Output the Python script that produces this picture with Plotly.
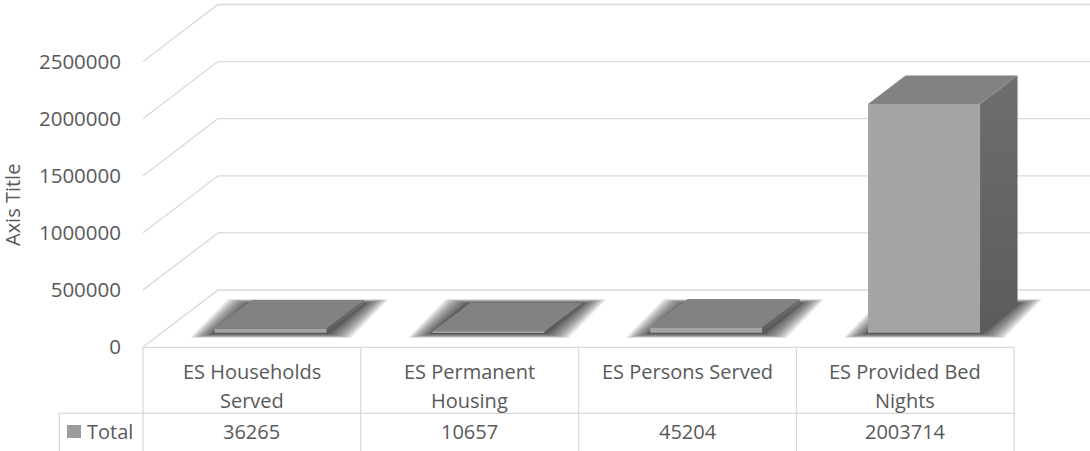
import plotly.graph_objects as go

# ---------------- data ----------------
categories = ["ES Households Served", "ES Permanent Housing", "ES Persons Served", "ES Provided Bed Nights"]
table_labels = [["ES Households", "Served"], ["ES Permanent", "Housing"], ["ES Persons Served"], ["ES Provided Bed", "Nights"]]
values = [36265, 10657, 45204, 2003714]
series_name = "Total"
tick_vals = [0, 500000, 1000000, 1500000, 2000000, 2500000]
tick_text = ["0", "500000", "1000000", "1500000", "2000000", "2500000"]
axis_title = "Axis Title"

# ---------------- geometry ----------------
W, H = 1090, 451
ML, MB = 143, 104
PW, PH = W - ML, H - MB
COL_PX = 217.8
UNITS_PER_PX = 500000 / 57.1

x0 = -0.5
x1 = x0 + PW / COL_PX
y1 = PH * UNITS_PER_PX


def ux(p):
    return p / COL_PX


def uy(p):
    return p * UNITS_PER_PX


DX, DY = ux(75), uy(57)          # depth of the floor
BAR_W = ux(112)
FDX, FDY = DX / 4, DY / 4        # bar front offset
BDX, BDY = DX / 2, DY / 2        # bar depth


def xp_cat(xc):
    return (xc - x0) / (x1 - x0)


def xp_px(px):
    return (px - ML) / PW


def yp_px(py):
    return (PH - py) / PH


GRID = "#d9d9d9"
TXT = "#595959"
FONT = "Open Sans"

shapes = []
# perspective gridlines (back wall + floor edge)
for v in tick_vals:
    shapes.append(dict(type="path", xref="x", yref="y", layer="below",
                       path=f"M {x0},{v} L {x0 + DX},{v + DY} L {x1},{v + DY}",
                       line=dict(color=GRID, width=1.3)))

# soft shadows under bars (stacked translucent layers to imitate a blur)
shadow_steps = [(24, 5), (21, 4.5), (18, 4), (15, 3.5), (12, 3), (9, 2.5), (6, 2), (4, 1.5), (2, 1)]
for i, v in enumerate(values):
    xl = i - BAR_W / 2 + FDX
    xr = xl + BAR_W
    for ex, ey in shadow_steps:
        exu, eyu = ux(ex), uy(ey)
        p = (f"M {xl - exu},{FDY - eyu} L {xr + exu},{FDY - eyu} "
             f"L {xr + BDX + exu},{FDY + BDY + eyu} L {xl + BDX - exu},{FDY + BDY + eyu} Z")
        shapes.append(dict(type="path", xref="x", yref="y", layer="below", path=p,
                           fillcolor="#1a1a1a", opacity=0.13, line=dict(width=0)))

fig = go.Figure()

# front faces (real bars)
fig.add_trace(go.Bar(x=list(range(len(values))), y=values, base=FDY, width=BAR_W,
                     offset=-BAR_W / 2 + FDX, name=series_name,
                     marker=dict(color="#a4a4a4", line=dict(width=0)),
                     hovertext=categories, showlegend=False))

# side and top faces
for i, v in enumerate(values):
    xl = i - BAR_W / 2 + FDX
    xr = xl + BAR_W
    fig.add_trace(go.Scatter(
        x=[xr, xr + BDX, xr + BDX, xr, xr],
        y=[FDY, FDY + BDY, FDY + BDY + v, FDY + v, FDY],
        mode="lines", fill="toself", line=dict(width=0),
        fillgradient=dict(type="vertical", colorscale=[[0, "#5c5c5c"], [1, "#6e6e6e"]]),
        hoverinfo="skip", showlegend=False))
    fig.add_trace(go.Scatter(
        x=[xl, xr, xr + BDX, xl + BDX, xl],
        y=[FDY + v, FDY + v, FDY + BDY + v, FDY + BDY + v, FDY + v],
        mode="lines", fill="toself", line=dict(width=0), fillcolor="#828282",
        hoverinfo="skip", showlegend=False))

# ---------------- data table ----------------
ytop, ymid, ybot = 347.3, 413.3, 452
n = len(values)
shapes.append(dict(type="line", xref="paper", yref="paper", x0=xp_cat(-0.5), x1=xp_cat(n - 0.5),
                   y0=yp_px(ytop), y1=yp_px(ytop), line=dict(color=GRID, width=1.3)))
shapes.append(dict(type="line", xref="paper", yref="paper", x0=xp_px(59.3), x1=xp_cat(n - 0.5),
                   y0=yp_px(ymid), y1=yp_px(ymid), line=dict(color=GRID, width=1.3)))
for i in range(n + 1):
    shapes.append(dict(type="line", xref="paper", yref="paper", x0=xp_cat(i - 0.5), x1=xp_cat(i - 0.5),
                       y0=yp_px(ytop), y1=yp_px(ybot), line=dict(color=GRID, width=1.3)))
shapes.append(dict(type="line", xref="paper", yref="paper", x0=xp_px(59.3), x1=xp_px(59.3),
                   y0=yp_px(ymid), y1=yp_px(ybot), line=dict(color=GRID, width=1.3)))
# legend key
shapes.append(dict(type="rect", xref="paper", yref="paper", x0=xp_px(67), x1=xp_px(81),
                   y0=yp_px(438), y1=yp_px(425), fillcolor="#9c9c9c", line=dict(width=0)))

annotations = []
for i, lines in enumerate(table_labels):
    for k, t in enumerate(lines):
        annotations.append(dict(text=t, xref="paper", yref="paper", x=xp_cat(i), y=yp_px(371 + 29.5 * k),
                                xanchor="center", yanchor="middle", showarrow=False,
                                font=dict(family=FONT, size=20, color=TXT)))
    annotations.append(dict(text=str(values[i]), xref="paper", yref="paper", x=xp_cat(i), y=yp_px(431.5),
                            xanchor="center", yanchor="middle", showarrow=False,
                            font=dict(family=FONT, size=20, color=TXT)))
annotations.append(dict(text=series_name, xref="paper", yref="paper", x=xp_px(85), y=yp_px(431.5),
                        xanchor="left", yanchor="middle", showarrow=False,
                        font=dict(family=FONT, size=20, color=TXT)))
annotations.append(dict(text=axis_title, xref="paper", yref="paper", x=xp_px(13), y=yp_px(205),
                        xanchor="center", yanchor="middle", textangle=-90, showarrow=False,
                        borderpad=0, font=dict(family=FONT, size=20, color=TXT)))

fig.update_layout(
    width=W, height=H, autosize=False,
    margin=dict(l=ML, r=0, t=0, b=MB, pad=0),
    paper_bgcolor="white", plot_bgcolor="white",
    showlegend=False,
    shapes=shapes, annotations=annotations,
    xaxis=dict(range=[x0, x1], visible=False, fixedrange=True),
    yaxis=dict(range=[0, y1], tickvals=tick_vals, ticktext=tick_text, ticks="",
               showgrid=False, zeroline=False, showline=False, ticklabelstandoff=21,
               tickfont=dict(family=FONT, size=20.5, color=TXT), fixedrange=True),
)

fig.write_html("out.html", config={"displayModeBar": False},
               post_script="document.body.style.margin='0px';document.body.style.overflow='hidden';")
